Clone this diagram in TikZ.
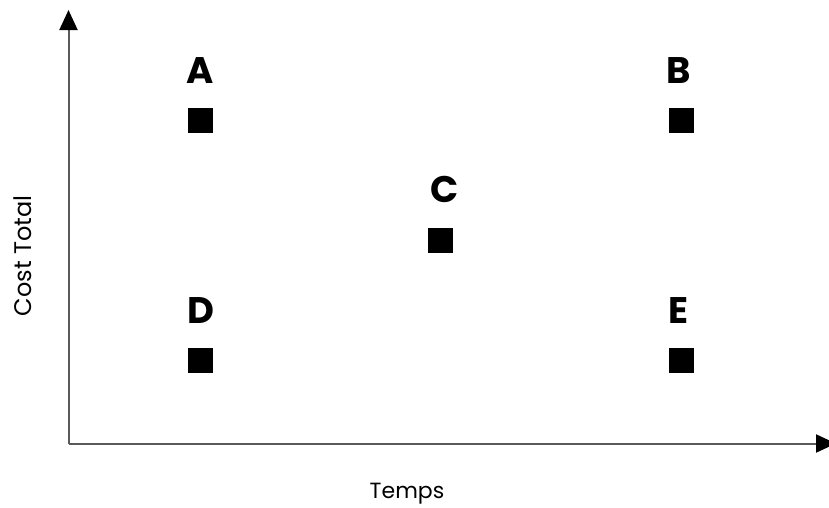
\documentclass[tikz,border=0pt]{standalone}
\usepackage{fontspec}
\setmainfont{Poppins}
\usetikzlibrary{arrows.meta}
\begin{document}
\begin{tikzpicture}[x=1pt,y=-1pt,
  axis/.style={draw=black!65,line width=2pt,-{Triangle[length=20pt,width=18pt,fill=black,color=black]}},
  pt/.style={fill=black,minimum size=25pt,inner sep=0pt,draw=none},
  lbl/.style={font=\fontsize{37}{37}\selectfont\bfseries,inner sep=0pt,anchor=center},
  axlbl/.style={font=\fontsize{24}{24}\selectfont,inner sep=0pt}]
\useasboundingbox (0,0) rectangle (829,507);
\coordinate (O) at (68.5,443.5);
\coordinate (Ytip) at (68.5,10);
\coordinate (Xtip) at (836,443.5);
\draw[axis] (O) -- (Ytip);
\draw[axis] (O) -- (Xtip);
\node[pt] (A) at (200.5,120) {};
\node[pt] (B) at (681,120) {};
\node[pt] (C) at (440,240) {};
\node[pt] (D) at (200.5,360) {};
\node[pt] (E) at (681,360) {};
\node[lbl] (la) at (200.5,71) {A};
\node[lbl] (lb) at (679,71) {B};
\node[lbl] (lc) at (445,189) {C};
\node[lbl] (ld) at (201,311) {D};
\node[lbl] (le) at (678,311) {E};
\node[axlbl,rotate=90] (yl) at (23,256) {Cost Total};
\node[axlbl,font=\fontsize{22}{22}\selectfont] (xl) at (407,494) {Temps};
\end{tikzpicture}
\end{document}
